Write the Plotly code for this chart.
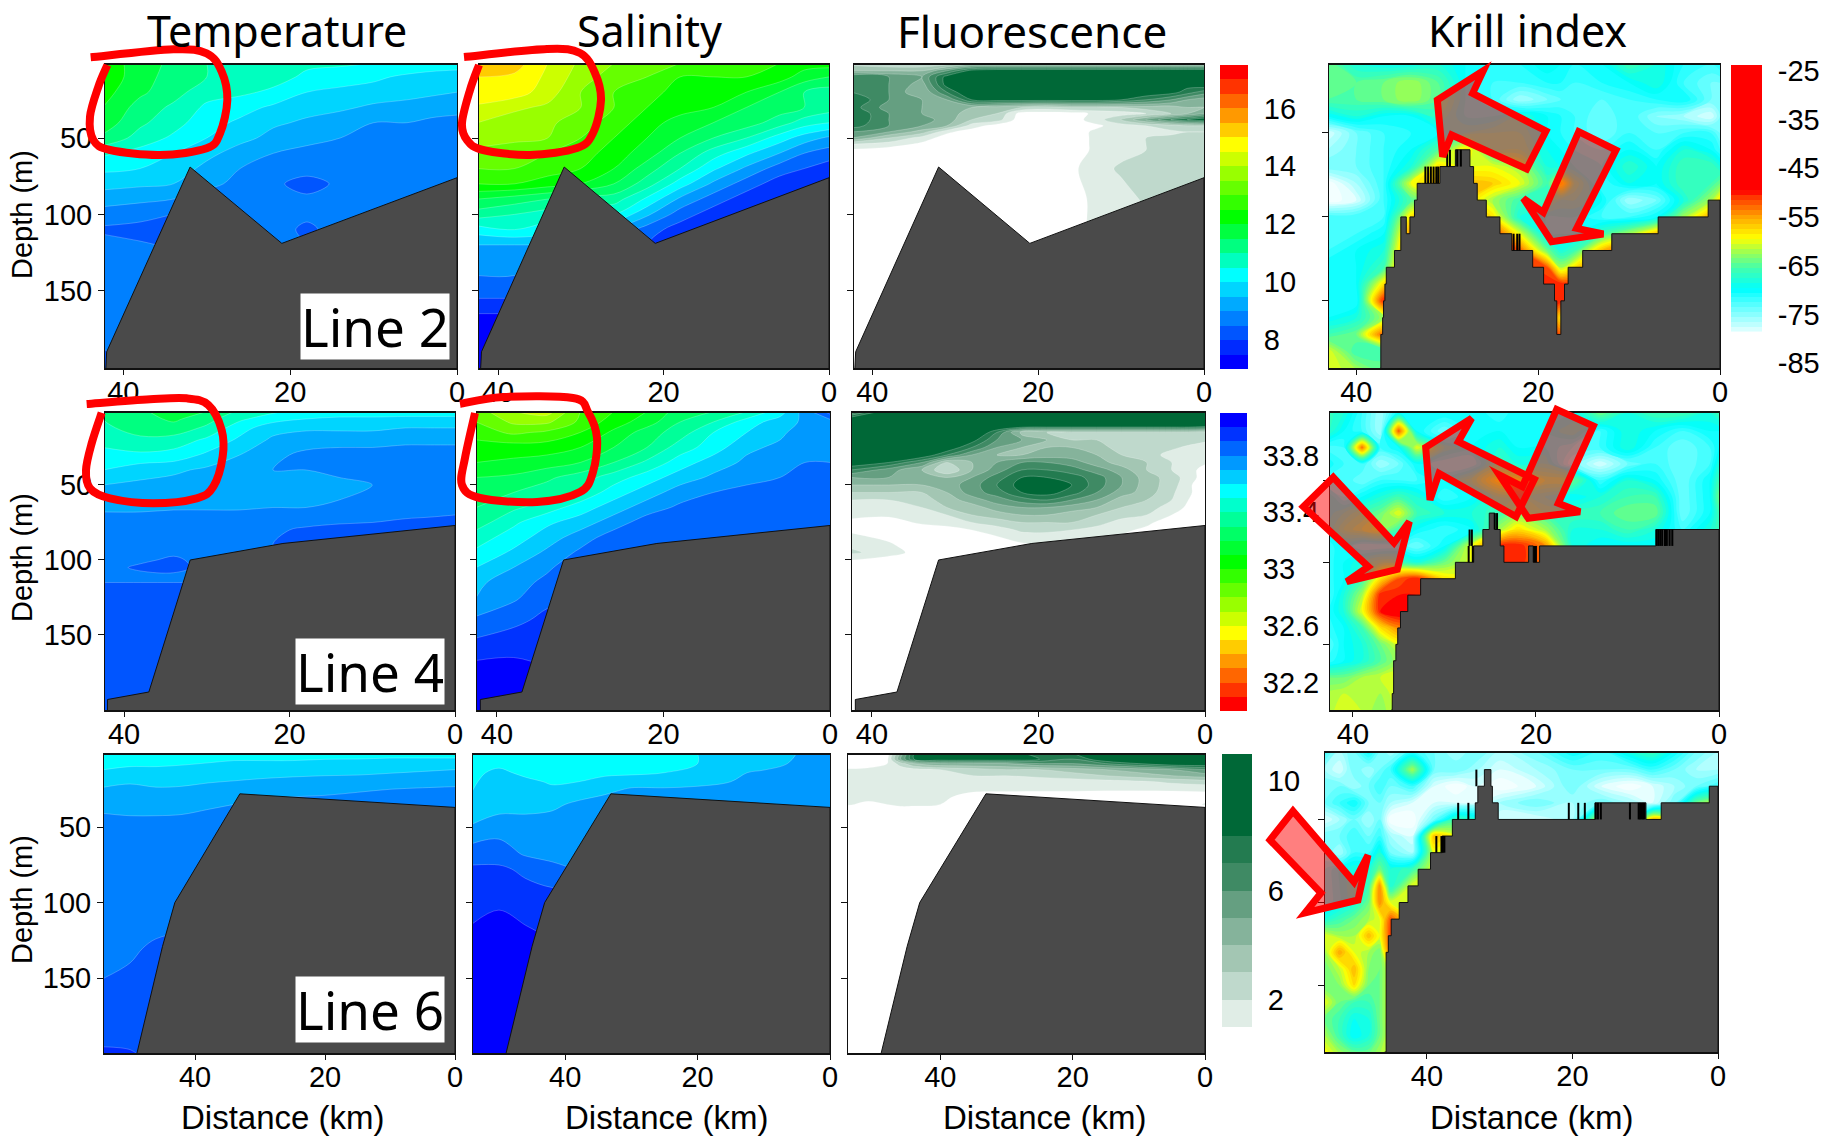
import plotly.graph_objects as go

W, H = 1833, 1138

# ---------- titles and tick labels ----------
col_titles = ["Temperature", "Salinity", "Fluorescence", "Krill index"]
line_labels = ["Line 2", "Line 4", "Line 6"]
dist_ticks = [40, 20, 0]
depth_ticks = [50, 100, 150]
temp_ticks = [8, 10, 12, 14, 16]
sal_ticks = [33.8, 33.4, 33, 32.6, 32.2]
sal_ticktext = ["33.8", "33.4", "33", "32.6", "32.2"]
fluor_ticks = [10, 6, 2]
krill_ticks = [-25, -35, -45, -55, -65, -75, -85]

# ---------- bathymetry (km, depth m) ----------
bottom_l2_km = [42.1, 42.0, 32.0, 21.0, 0.0]
bottom_l2_m = [201, 190, 69, 119, 76]
bottom_l4_km = [42.0, 42.0, 37.0, 32.0, 20.8, 0.0]
bottom_l4_m = [201, 193, 188, 100, 89, 77]
bottom_l6_km = [49.0, 45.0, 43.1, 33.1, 0.0]
bottom_l6_m = [201, 129, 100, 28, 37]

# stepped krill bottom
krill_bot_l2_km = [37.35, 37.3, 37.1, 37.0, 36.85, 36.7, 35.8, 35.1, 34.5, 34.1, 33.6, 33.3, 32.8, 30.8, 29.1, 27.5, 27.1, 26.7, 25.7, 24.2, 22.9, 20.6, 19.4, 18.2, 17.95, 17.5, 17.1, 16.7, 15.1, 11.9, 6.8, 1.3, 0.0]
krill_bot_l2_m = [190, 170, 160, 150, 140, 130, 120, 100, 110, 100, 90, 80, 80, 70, 60, 70, 80, 90, 100, 110, 120, 130, 140, 150, 170, 150, 140, 130, 120, 110, 100, 90, 90]
krill_spk_l2_km = [32.4, 32.1, 31.8, 31.5, 31.2, 31.0, 30.0, 29.7, 28.9, 28.5, 22.7, 22.3, 22.05]
krill_spk_l2_top = [70, 70, 70, 70, 70, 70, 60, 60, 60, 60, 110, 110, 110]

krill_bot_l4_km = [35.8, 35.7, 35.55, 35.3, 35.1, 34.8, 34.0, 32.6, 28.8, 26.8, 25.8, 25.1, 24.5, 23.9, 23.5, 20.8, 20.3, 19.6, 6.9, 0.0]
krill_bot_l4_m = [190, 180, 160, 150, 140, 130, 120, 110, 100, 90, 80, 70, 80, 90, 100, 90, 100, 90, 80, 80]
krill_spk_l4_km = [27.35, 27.25, 27.0, 26.9, 24.5, 24.25, 20.2, 20.0, 6.8, 6.6, 6.4, 6.2, 5.9, 5.7, 5.4, 5.1]
krill_spk_l4_top = [90, 80, 80, 90, 70, 70, 90, 90, 80, 80, 80, 80, 80, 80, 80, 80]

krill_bot_l6_km = [45.8, 45.6, 45.3, 44.9, 43.8, 42.6, 41.2, 39.5, 37.9, 36.5, 33.35, 33.0, 32.1, 31.2, 31.0, 30.2, 16.9, 9.9, 7.8, 1.2, 0.0]
krill_bot_l6_m = [190, 130, 120, 110, 100, 90, 80, 70, 60, 50, 40, 30, 20, 30, 40, 50, 40, 50, 40, 30, 30]
krill_spk_l6_km = [35.7, 34.3, 33.2, 38.7, 38.0, 37.8, 37.6, 20.5, 19.2, 18.3, 16.8, 16.5, 16.1, 12.1, 10.9, 10.7, 10.5, 10.3, 10.1]
krill_spk_l6_top = [40, 40, 20, 60, 60, 60, 60, 40, 40, 40, 40, 40, 40, 40, 40, 40, 40, 40, 40]

# ---------- Temperature ----------
temp_l2_km = [42.5, 38, 34, 30, 26, 22, 18, 14, 10, 6, 3, 0]
temp_l2_m = [1, 10, 20, 30, 40, 50, 60, 70, 80, 90, 100, 110, 125, 150, 185, 201]
temp_l2 = [
    [12.4, 11.7, 11.4, 11.0, 10.9, 10.8, 10.6, 10.6, 10.5, 10.4, 10.3, 10.3],
    [12.4, 11.7, 11.3, 11.0, 10.8, 10.7, 10.4, 10.2, 10.1, 9.9, 9.8, 9.7],
    [12.2, 11.6, 11.2, 10.7, 10.6, 10.4, 10.0, 9.9, 9.8, 9.7, 9.6, 9.5],
    [12.0, 11.3, 10.9, 10.4, 10.2, 9.9, 9.7, 9.6, 9.4, 9.3, 9.2, 9.1],
    [11.8, 11.1, 10.7, 10.2, 9.9, 9.6, 9.4, 9.2, 9.0, 9.0, 8.9, 8.9],
    [11.4, 10.8, 10.4, 10.0, 9.7, 9.3, 9.1, 9.0, 9.0, 8.8, 8.8, 8.8],
    [10.6, 10.3, 10.0, 9.7, 9.2, 9.0, 8.9, 8.8, 8.8, 8.8, 8.7, 8.7],
    [10.1, 10.0, 9.9, 9.3, 9.0, 8.8, 8.7, 8.7, 8.7, 8.7, 8.7, 8.7],
    [9.7, 9.6, 9.5, 9.1, 8.9, 8.6, 8.3, 8.6, 8.7, 8.7, 8.7, 8.7],
    [9.2, 9.1, 9.0, 8.8, 8.7, 8.6, 8.6, 8.7, 8.7, 8.7, 8.7, 8.7],
    [8.8, 8.7, 8.5, 8.3, 8.6, 8.7, 8.6, 8.7, 8.7, 8.7, 8.7, 8.7],
    [8.4, 8.3, 8.1, 8.2, 8.5, 8.7, 8.4, 8.7, 8.7, 8.7, 8.7, 8.7],
    [8.9, 8.7, 8.6, 8.6, 8.6, 8.6, 8.6, 8.6, 8.6, 8.6, 8.6, 8.6],
    [8.7, 8.7, 8.7, 8.7, 8.7, 8.7, 8.7, 8.7, 8.7, 8.7, 8.7, 8.7],
    [8.6, 8.6, 8.6, 8.6, 8.6, 8.6, 8.6, 8.6, 8.6, 8.6, 8.6, 8.6],
    [8.0, 8.6, 8.6, 8.6, 8.6, 8.6, 8.6, 8.6, 8.6, 8.6, 8.6, 8.6],
]
temp_l4_km = [42.5, 38, 34, 30, 26, 22, 18, 14, 10, 6, 3, 0]
temp_l4_m = [1, 6, 12, 20, 30, 40, 50, 60, 70, 80, 90, 100, 105, 112, 118, 201]
temp_l4 = [
    [11.0, 11.4, 11.8, 11.5, 10.9, 10.6, 10.3, 10.3, 10.3, 10.2, 10.2, 10.2],
    [11.0, 11.3, 11.6, 11.2, 10.6, 10.2, 10.0, 9.9, 9.9, 9.9, 9.9, 9.9],
    [10.9, 11.2, 11.3, 10.9, 10.2, 9.7, 9.6, 9.6, 9.6, 9.5, 9.5, 9.5],
    [10.7, 10.9, 10.8, 10.4, 9.9, 9.4, 9.2, 9.2, 9.2, 9.1, 9.1, 9.1],
    [10.3, 10.4, 10.3, 9.9, 9.5, 9.1, 8.9, 8.8, 8.8, 8.8, 8.8, 8.8],
    [10.0, 9.7, 9.6, 9.4, 9.2, 9.0, 9.0, 8.9, 8.8, 8.7, 8.7, 8.7],
    [9.5, 9.4, 9.3, 9.2, 9.2, 9.1, 9.1, 9.1, 9.0, 8.8, 8.7, 8.7],
    [9.2, 9.2, 9.2, 9.2, 9.2, 9.1, 9.1, 9.0, 8.9, 8.8, 8.7, 8.7],
    [8.95, 8.95, 8.9, 8.9, 8.9, 8.9, 8.9, 8.8, 8.7, 8.6, 8.55, 8.5],
    [8.8, 8.7, 8.7, 8.7, 8.7, 8.6, 8.4, 8.3, 8.3, 8.2, 8.2, 8.1],
    [8.7, 8.65, 8.65, 8.6, 8.6, 8.5, 8.3, 8.2, 8.2, 8.2, 8.2, 8.2],
    [8.6, 8.55, 8.45, 8.6, 8.6, 8.6, 8.6, 8.6, 8.6, 8.6, 8.6, 8.6],
    [8.6, 8.45, 8.4, 8.6, 8.6, 8.6, 8.6, 8.6, 8.6, 8.6, 8.6, 8.6],
    [8.6, 8.6, 8.6, 8.6, 8.6, 8.6, 8.6, 8.6, 8.6, 8.6, 8.6, 8.6],
    [8.4, 8.4, 8.4, 8.4, 8.4, 8.4, 8.4, 8.4, 8.4, 8.4, 8.4, 8.4],
    [8.2, 8.2, 8.2, 8.2, 8.2, 8.2, 8.2, 8.2, 8.2, 8.2, 8.2, 8.2],
]
temp_l6_km = [54, 50, 46, 42, 38, 34, 30, 25, 20, 15, 10, 5, 0]
temp_l6_m = [1, 6, 12, 18, 25, 35, 45, 60, 100, 130, 150, 170, 190, 201]
temp_l6 = [
    [10.2, 10.4, 10.5, 10.4, 10.3, 10.3, 10.3, 10.25, 10.25, 10.2, 10.2, 10.2, 10.2],
    [10.1, 10.2, 10.2, 10.1, 10.05, 10.0, 10.0, 10.0, 9.95, 9.95, 9.9, 9.9, 9.9],
    [10.0, 9.9, 9.9, 9.9, 9.85, 9.8, 9.75, 9.7, 9.7, 9.65, 9.6, 9.55, 9.5],
    [9.7, 9.6, 9.7, 9.75, 9.6, 9.55, 9.5, 9.45, 9.4, 9.4, 9.35, 9.3, 9.3],
    [9.45, 9.4, 9.45, 9.4, 9.35, 9.3, 9.2, 9.15, 9.1, 9.05, 9.0, 8.95, 8.9],
    [9.15, 9.15, 9.15, 9.1, 9.05, 9.0, 8.9, 8.85, 8.85, 8.8, 8.8, 8.8, 8.8],
    [8.9, 8.95, 8.95, 8.95, 8.9, 8.8, 8.8, 8.8, 8.8, 8.8, 8.8, 8.8, 8.8],
    [8.8, 8.8, 8.8, 8.8, 8.8, 8.8, 8.8, 8.8, 8.8, 8.8, 8.8, 8.8, 8.8],
    [8.7, 8.7, 8.7, 8.7, 8.7, 8.7, 8.7, 8.7, 8.7, 8.7, 8.7, 8.7, 8.7],
    [8.65, 8.55, 8.45, 8.4, 8.4, 8.4, 8.4, 8.4, 8.4, 8.4, 8.4, 8.4, 8.4],
    [8.5, 8.45, 8.4, 8.4, 8.4, 8.4, 8.4, 8.4, 8.4, 8.4, 8.4, 8.4, 8.4],
    [8.4, 8.35, 8.3, 8.3, 8.3, 8.3, 8.3, 8.3, 8.3, 8.3, 8.3, 8.3, 8.3],
    [8.1, 8.2, 8.3, 8.3, 8.3, 8.3, 8.3, 8.3, 8.3, 8.3, 8.3, 8.3, 8.3],
    [7.9, 7.9, 8.2, 8.3, 8.3, 8.3, 8.3, 8.3, 8.3, 8.3, 8.3, 8.3, 8.3],
]

# ---------- Salinity ----------
sal_l2_km = [42.5, 38, 34, 30, 26, 22, 18, 14, 10, 6, 3, 0]
sal_l2_m = [1, 10, 20, 30, 40, 50, 60, 70, 80, 90, 100, 110, 120, 130, 150, 165, 195, 201]
sal_l2 = [
    [32.45, 32.45, 32.6, 32.72, 32.8, 32.85, 32.9, 32.95, 33.0, 33.0, 33.05, 33.05],
    [32.5, 32.52, 32.62, 32.75, 32.85, 32.9, 33.0, 33.0, 33.0, 33.05, 33.15, 33.2],
    [32.52, 32.55, 32.65, 32.8, 32.9, 32.95, 33.05, 33.05, 33.1, 33.2, 33.3, 33.35],
    [32.62, 32.68, 32.72, 32.8, 32.9, 33.0, 33.05, 33.1, 33.2, 33.25, 33.3, 33.35],
    [32.7, 32.75, 32.78, 32.85, 32.95, 33.05, 33.15, 33.2, 33.25, 33.35, 33.45, 33.5],
    [32.72, 32.78, 32.8, 32.9, 33.0, 33.1, 33.2, 33.3, 33.4, 33.55, 33.65, 33.72],
    [32.85, 32.85, 32.9, 32.95, 33.05, 33.15, 33.3, 33.45, 33.58, 33.7, 33.8, 33.85],
    [32.9, 32.9, 32.95, 33.0, 33.1, 33.25, 33.4, 33.58, 33.72, 33.85, 33.9, 33.95],
    [33.0, 33.0, 33.05, 33.1, 33.2, 33.35, 33.55, 33.72, 33.85, 33.95, 33.98, 34.0],
    [33.2, 33.25, 33.3, 33.35, 33.35, 33.52, 33.72, 33.85, 33.95, 34.0, 34.0, 34.0],
    [33.35, 33.4, 33.45, 33.5, 33.5, 33.68, 33.85, 33.95, 34.0, 34.0, 34.0, 34.0],
    [33.55, 33.5, 33.55, 33.6, 33.7, 33.85, 33.95, 34.0, 34.0, 34.0, 34.0, 34.0],
    [33.7, 33.7, 33.7, 33.7, 33.8, 33.9, 34.0, 34.0, 34.0, 34.0, 34.0, 34.0],
    [33.75, 33.75, 33.8, 33.8, 33.8, 33.9, 34.0, 34.0, 34.0, 34.0, 34.0, 34.0],
    [33.85, 33.85, 33.85, 33.85, 33.9, 33.9, 34.0, 34.0, 34.0, 34.0, 34.0, 34.0],
    [34.0, 34.0, 34.0, 34.0, 34.0, 34.0, 34.0, 34.0, 34.0, 34.0, 34.0, 34.0],
    [34.05, 34.05, 34.05, 34.05, 34.05, 34.05, 34.05, 34.05, 34.05, 34.05, 34.05, 34.05],
    [34.05, 34.05, 34.05, 34.05, 34.05, 34.05, 34.05, 34.05, 34.05, 34.05, 34.05, 34.05],
]
sal_l4_km = [42.5, 38, 34, 30, 26, 22, 18, 14, 10, 6, 3, 0]
sal_l4_m = [1, 8, 15, 25, 35, 45, 55, 65, 75, 85, 95, 105, 115, 125, 140, 155, 170, 201]
sal_l4 = [
    [32.85, 32.7, 32.65, 32.9, 33.0, 33.1, 33.25, 33.3, 33.4, 33.55, 33.75, 33.95],
    [32.9, 32.78, 32.78, 32.92, 33.05, 33.15, 33.3, 33.4, 33.55, 33.65, 33.72, 33.75],
    [32.95, 32.88, 32.92, 33.0, 33.12, 33.25, 33.35, 33.5, 33.6, 33.68, 33.75, 33.78],
    [33.05, 33.05, 33.05, 33.1, 33.2, 33.3, 33.45, 33.55, 33.68, 33.72, 33.78, 33.8],
    [33.1, 33.12, 33.15, 33.2, 33.3, 33.42, 33.55, 33.65, 33.72, 33.77, 33.8, 33.8],
    [33.2, 33.22, 33.28, 33.35, 33.45, 33.55, 33.65, 33.72, 33.78, 33.8, 33.82, 33.82],
    [33.25, 33.3, 33.35, 33.42, 33.55, 33.65, 33.75, 33.8, 33.82, 33.83, 33.85, 33.85],
    [33.3, 33.38, 33.45, 33.55, 33.65, 33.75, 33.82, 33.85, 33.85, 33.85, 33.85, 33.85],
    [33.35, 33.48, 33.58, 33.65, 33.75, 33.85, 33.88, 33.88, 33.88, 33.88, 33.88, 33.88],
    [33.45, 33.55, 33.65, 33.75, 33.85, 33.88, 33.88, 33.88, 33.88, 33.88, 33.88, 33.88],
    [33.52, 33.62, 33.72, 33.82, 33.88, 33.88, 33.88, 33.88, 33.88, 33.88, 33.88, 33.88],
    [33.6, 33.7, 33.78, 33.88, 33.88, 33.88, 33.88, 33.88, 33.88, 33.88, 33.88, 33.88],
    [33.68, 33.75, 33.83, 33.9, 33.9, 33.9, 33.9, 33.9, 33.9, 33.9, 33.9, 33.9],
    [33.7, 33.78, 33.88, 33.9, 33.9, 33.9, 33.9, 33.9, 33.9, 33.9, 33.9, 33.9],
    [33.82, 33.88, 33.92, 33.92, 33.92, 33.92, 33.92, 33.92, 33.92, 33.92, 33.92, 33.92],
    [33.92, 33.94, 33.96, 33.96, 33.96, 33.96, 33.96, 33.96, 33.96, 33.96, 33.96, 33.96],
    [34.02, 34.03, 34.0, 34.0, 34.0, 34.0, 34.0, 34.0, 34.0, 34.0, 34.0, 34.0],
    [34.05, 34.05, 34.05, 34.05, 34.05, 34.05, 34.05, 34.05, 34.05, 34.05, 34.05, 34.05],
]
sal_l6_km = [54, 50, 46, 42, 38, 34, 30, 25, 20, 15, 10, 5, 0]
sal_l6_m = [1, 8, 14, 20, 26, 35, 48, 58, 68, 78, 90, 105, 120, 150, 201]
sal_l6 = [
    [33.55, 33.55, 33.52, 33.52, 33.52, 33.55, 33.55, 33.58, 33.6, 33.62, 33.65, 33.7, 33.72],
    [33.56, 33.58, 33.55, 33.52, 33.53, 33.55, 33.55, 33.58, 33.6, 33.62, 33.65, 33.72, 33.75],
    [33.58, 33.62, 33.58, 33.55, 33.56, 33.58, 33.58, 33.6, 33.62, 33.68, 33.72, 33.74, 33.76],
    [33.59, 33.64, 33.62, 33.59, 33.6, 33.63, 33.66, 33.66, 33.68, 33.7, 33.72, 33.75, 33.76],
    [33.6, 33.65, 33.64, 33.62, 33.65, 33.68, 33.72, 33.72, 33.72, 33.74, 33.75, 33.76, 33.78],
    [33.66, 33.68, 33.68, 33.68, 33.72, 33.75, 33.76, 33.78, 33.78, 33.78, 33.78, 33.78, 33.78],
    [33.7, 33.72, 33.72, 33.74, 33.78, 33.78, 33.78, 33.78, 33.78, 33.78, 33.78, 33.78, 33.78],
    [33.78, 33.8, 33.76, 33.76, 33.78, 33.78, 33.78, 33.78, 33.78, 33.78, 33.78, 33.78, 33.78],
    [33.85, 33.85, 33.79, 33.78, 33.8, 33.8, 33.8, 33.8, 33.8, 33.8, 33.8, 33.8, 33.8],
    [33.92, 33.92, 33.88, 33.82, 33.8, 33.8, 33.8, 33.8, 33.8, 33.8, 33.8, 33.8, 33.8],
    [33.95, 33.96, 33.92, 33.9, 33.9, 33.9, 33.9, 33.9, 33.9, 33.9, 33.9, 33.9, 33.9],
    [33.97, 34.0, 33.96, 33.94, 33.94, 33.94, 33.94, 33.94, 33.94, 33.94, 33.94, 33.94, 33.94],
    [34.02, 34.05, 34.02, 33.98, 33.98, 33.98, 33.98, 33.98, 33.98, 33.98, 33.98, 33.98, 33.98],
    [34.05, 34.05, 34.05, 34.05, 34.05, 34.05, 34.05, 34.05, 34.05, 34.05, 34.05, 34.05, 34.05],
    [34.05, 34.05, 34.05, 34.05, 34.05, 34.05, 34.05, 34.05, 34.05, 34.05, 34.05, 34.05, 34.05],
]

# ---------- Fluorescence ----------
fluor_km = [42.5, 38, 34, 31, 28, 25, 22, 19, 16, 13, 10, 7, 4, 2, 0]
fluor_l2_m = [1, 6, 10, 15, 20, 25, 30, 34, 38, 42, 46, 50, 54, 58, 70, 90, 110, 201]
fluor_l2 = [
    [2.5, 2, 2, 2, 3, 3, 3, 3, 3, 3, 3, 3, 3, 3, 3],
    [4, 4, 4, 6, 8.5, 9, 9, 9, 9, 9, 9, 9, 9, 9, 9],
    [7, 6, 5, 8.5, 10, 10, 10, 10, 10, 10, 10, 10, 9.5, 9, 9],
    [7, 6, 4.5, 8.5, 10, 10, 10, 10, 10, 10, 10, 10, 9, 8.5, 9],
    [7, 6, 4, 7, 9.5, 10, 10, 10, 10, 10, 10, 9, 8.5, 7.5, 6.5],
    [8, 6, 5, 5, 8, 8.5, 8.5, 8.5, 8.5, 8.5, 8, 7, 6, 5, 4.5],
    [7.5, 5.5, 5, 4.5, 4, 3.5, 3, 2.5, 3, 3, 3, 3.5, 3.5, 4, 4],
    [8, 6, 5, 4.5, 3.5, 3, 0.5, 0.5, 0.6, 1.2, 1.5, 2, 3, 4, 5],
    [8, 6, 5.5, 4.5, 3, 2.5, 0.3, 0.3, 0.5, 1.5, 3, 5, 7, 8, 9],
    [7.5, 6, 5, 4, 1.5, 0.5, 0.2, 0.2, 0.4, 0.8, 1.5, 2, 2.5, 3, 3],
    [6, 5, 3.5, 1.2, 0.5, 0.3, 0.2, 0.2, 0.5, 1.2, 1.2, 1.5, 1.8, 2, 2],
    [5, 3, 1.5, 0.5, 0.2, 0.2, 0.2, 0.2, 0.5, 1.2, 1.5, 2, 2.2, 2.2, 2.2],
    [2, 1.5, 0.8, 0.3, 0.1, 0.1, 0.1, 0.1, 0.5, 1.2, 1.5, 2, 2.2, 2.2, 2.5],
    [0.8, 0.5, 0.2, 0.1, 0.1, 0.1, 0.1, 0.1, 0.5, 1.2, 1.6, 2, 2.2, 2.4, 2.6],
    [0, 0, 0, 0, 0, 0, 0, 0, 0.8, 1.5, 2.2, 3, 3, 3, 3],
    [0, 0, 0, 0, 0, 0, 0, 0, 0.5, 1.3, 1.5, 2.2, 2.2, 2.2, 2.2],
    [0, 0, 0, 0, 0, 0, 0, 0, 0.5, 1.3, 1.5, 1.5, 1.5, 1.5, 1.5],
    [0, 0, 0, 0, 0, 0, 0, 0, 0, 1, 1, 1, 1, 1, 1],
]
fluor_l4_m = [1, 6, 10, 15, 20, 25, 30, 35, 40, 45, 50, 55, 60, 65, 70, 75, 80, 90, 95, 100, 110, 201]
fluor_l4 = [
    [5, 9, 9, 9, 9, 9, 9, 9, 9, 9, 9, 9, 9, 9, 9],
    [9, 10, 10, 10, 10, 10, 10, 10, 10, 10, 10, 10, 10, 10, 10],
    [10, 10, 10, 10, 10, 10, 10, 10, 10, 10, 10, 10, 10, 10, 9.5],
    [10, 10, 10, 10, 10, 7, 3.5, 3, 3, 3, 3, 3, 3, 3, 2.5],
    [10, 10, 10, 10, 8.5, 6, 5, 4, 3, 3, 2.5, 2.5, 2.5, 2.5, 2.2],
    [10, 10, 10, 9, 7, 5, 4, 4, 4, 3.5, 2.5, 2.5, 2.2, 1.8, 1.5],
    [10, 10, 9, 7, 5, 4, 4, 4.5, 4.5, 4, 3, 2.5, 1.6, 1.5, 1.2],
    [9, 8, 6, 3, 4, 5, 6, 6, 5.5, 4.5, 3.5, 3, 2, 1.5, 1.2],
    [7, 5.5, 4, 2, 4, 5.5, 7, 7, 6.5, 5.5, 4.5, 3, 2, 1.5, 0.5],
    [5, 5, 4.5, 4, 5, 6.5, 8, 8, 7.5, 6.5, 5, 3.5, 2.5, 1.5, 0.5],
    [4, 4, 4, 4.5, 5.5, 7, 8.5, 8.5, 8, 6.5, 5, 3.5, 2.5, 1.2, 0.3],
    [3, 3, 3, 4, 5.5, 6.5, 8, 8.5, 7.5, 6, 4.5, 3.5, 2.2, 1.2, 0.3],
    [2, 2, 2.5, 3.5, 4.5, 5.5, 6.5, 7, 6, 5, 3.5, 3, 2, 1, 0.3],
    [1.5, 1.5, 2, 3, 3.5, 4.5, 5, 5, 4.5, 4, 3, 2.5, 1.5, 0.8, 0.2],
    [1.2, 1.2, 1.5, 2, 3, 3.5, 4, 4, 3.5, 3, 2.5, 2, 1, 0.5, 0.2],
    [0.8, 0.5, 1.2, 1.5, 2, 2.5, 3, 3, 3, 2.5, 1.5, 1.2, 0.5, 0.2, 0.1],
    [0.8, 0.3, 0.3, 0.5, 1, 1.5, 2.2, 2.2, 2, 1.5, 1.2, 0.8, 0.2, 0.1, 0.1],
    [1.8, 1.2, 0.2, 0.2, 0.2, 0.3, 0.8, 1, 0.8, 0.8, 0.5, 0.2, 0.1, 0.1, 0.1],
    [2.2, 1.5, 0.5, 0.1, 0.1, 0.1, 0.1, 0.1, 0.1, 0.1, 0.1, 0.1, 0.1, 0.1, 0.1],
    [1, 0.5, 0, 0, 0, 0, 0, 0, 0, 0, 0, 0, 0, 0, 0],
    [0, 0, 0, 0, 0, 0, 0, 0, 0, 0, 0, 0, 0, 0, 0],
    [0, 0, 0, 0, 0, 0, 0, 0, 0, 0, 0, 0, 0, 0, 0],
]
fluor_l6_km = [54, 51, 48, 46, 44, 40, 35, 30, 25, 20, 15, 10, 5, 0]
fluor_l6_m = [1, 5, 8, 12, 16, 20, 25, 30, 35, 40, 50, 201]
fluor_l6 = [
    [0, 0, 0.5, 4, 8, 9, 9, 9, 7, 8, 10, 10, 10, 10],
    [0, 0, 0.8, 5, 8, 9, 9, 9, 8, 7, 9, 10, 10, 9],
    [0, 0.5, 1, 2.5, 4, 5, 5, 5, 6, 6, 7, 8, 9, 9],
    [1.2, 1.2, 1.2, 1.4, 1.6, 2, 2.5, 3, 3, 3.5, 4, 4.5, 5, 6],
    [1.2, 1.2, 1.2, 1.2, 1.3, 1.5, 2, 2, 2.2, 2.5, 3, 3.5, 4, 4.5],
    [1.3, 1.3, 1.3, 1.3, 1.3, 1.3, 1.4, 1.4, 1.5, 1.5, 1.6, 1.8, 2.2, 2.5],
    [1.3, 1.3, 1.3, 1.3, 1.3, 1.3, 1.3, 1.3, 1.3, 1.3, 1.2, 1.2, 1.2, 1.2],
    [1.3, 1.3, 1.3, 1.3, 1.3, 1.3, 0.5, 0.3, 0.2, 0.1, 0.1, 0.2, 0.3, 0.6],
    [1.1, 0.8, 1, 1.2, 1.2, 1, 0.3, 0.1, 0.1, 0.1, 0.1, 0.1, 0.1, 1.1],
    [0.3, 0.2, 0.3, 0.4, 0.3, 0.2, 0.1, 0, 0, 0, 0, 0, 0, 0],
    [0, 0, 0, 0, 0, 0, 0, 0, 0, 0, 0, 0, 0, 0],
    [0, 0, 0, 0, 0, 0, 0, 0, 0, 0, 0, 0, 0, 0],
]

# ---------- Krill index ----------
krill_m = [9, 20, 30, 40, 50, 60, 70, 80, 90, 100, 110, 120, 130, 140, 150, 160, 170, 180, 191]
krill_l2_km = [43.2, 40, 37, 34, 31, 28, 25, 22, 19, 17.5, 16, 13, 10, 7, 4, 1, 0]
krill_l2 = [
    [-64, -68, -69, -69, -68, -70, -71, -71, -69, -70, -71, -70, -66, -68, -71, -72, -71],
    [-64, -65, -64, -62, -65, -70, -72, -72, -71, -71, -72, -71, -70, -68, -72, -74, -74],
    [-65, -65, -64, -62, -65, -70, -72, -76, -74, -73, -72, -73, -72, -71, -70, -74, -74],
    [-70, -68, -70, -70, -67, -70, -70, -68, -70, -71, -72, -74, -72, -75, -76, -78, -75],
    [-78, -74, -72, -71, -70, -68, -67, -67, -70, -71, -72, -74, -72, -73, -72, -72, -74],
    [-76, -74, -72, -70, -65, -58, -66, -66, -69, -70, -71, -72, -70, -72, -68, -70, -72],
    [-74, -74, -72, -68, -58, -60, -60, -62, -68, -69, -70, -71, -67, -70, -66, -66, -68],
    [-80, -76, -72, -60, -56, -56, -57, -60, -66, -58, -66, -72, -69, -70, -66, -66, -64],
    [-80, -78, -72, -65, -60, -56, -62, -66, -66, -68, -68, -70, -76, -74, -68, -62, -58],
    [-72, -72, -72, -58, -54, -54, -58, -68, -70, -70, -70, -72, -72, -70, -62, -55, -55],
    [-72, -72, -70, -54, -50, -50, -50, -60, -70, -70, -70, -66, -62, -56, -55, -55, -55],
    [-72, -70, -68, -52, -50, -50, -50, -52, -64, -68, -66, -56, -50, -50, -50, -50, -50],
    [-70, -70, -66, -50, -50, -50, -50, -50, -52, -62, -58, -50, -50, -50, -50, -50, -50],
    [-70, -70, -58, -50, -50, -50, -50, -50, -50, -50, -50, -50, -50, -50, -50, -50, -50],
    [-70, -71, -50, -50, -50, -50, -50, -50, -50, -50, -50, -50, -50, -50, -50, -50, -50],
    [-70, -68, -62, -50, -50, -50, -50, -50, -50, -58, -50, -50, -50, -50, -50, -50, -50],
    [-66, -64, -52, -50, -50, -50, -50, -50, -50, -52, -50, -50, -50, -50, -50, -50, -50],
    [-60, -66, -66, -50, -50, -50, -50, -50, -50, -50, -50, -50, -50, -50, -50, -50, -50],
    [-60, -62, -64, -50, -50, -50, -50, -50, -50, -50, -50, -50, -50, -50, -50, -50, -50],
]
krill_l4_km = [43.2, 41, 39, 37, 35, 33, 30, 27, 24, 22, 19, 16, 13, 10, 7, 4, 1, 0]
krill_l4 = [
    [-66, -68, -72, -76, -70, -70, -70, -70, -72, -70, -70, -70, -64, -68, -66, -66, -68, -66],
    [-66, -70, -72, -76, -52, -70, -74, -70, -70, -70, -70, -68, -72, -68, -70, -72, -70, -70],
    [-72, -72, -53, -72, -70, -60, -68, -70, -68, -70, -70, -72, -72, -68, -72, -74, -72, -70],
    [-70, -72, -72, -76, -74, -70, -72, -72, -66, -68, -68, -74, -78, -74, -72, -74, -72, -68],
    [-72, -72, -74, -72, -72, -72, -70, -66, -60, -60, -64, -64, -72, -68, -70, -74, -70, -66],
    [-68, -72, -70, -68, -66, -68, -72, -70, -66, -66, -68, -70, -68, -66, -66, -74, -70, -64],
    [-70, -68, -66, -64, -60, -66, -68, -68, -66, -64, -66, -66, -66, -64, -64, -74, -70, -66],
    [-70, -66, -64, -62, -66, -70, -72, -70, -62, -58, -62, -68, -68, -66, -68, -72, -68, -66],
    [-72, -70, -72, -72, -72, -74, -70, -60, -50, -50, -54, -68, -70, -70, -70, -70, -66, -66],
    [-72, -70, -68, -66, -66, -68, -64, -60, -50, -50, -54, -60, -60, -60, -60, -60, -60, -60],
    [-72, -70, -66, -58, -52, -50, -58, -60, -60, -60, -60, -60, -60, -60, -60, -60, -60, -60],
    [-74, -68, -62, -50, -50, -50, -50, -60, -60, -60, -60, -60, -60, -60, -60, -60, -60, -60],
    [-72, -68, -60, -50, -48, -48, -50, -60, -60, -60, -60, -60, -60, -60, -60, -60, -60, -60],
    [-72, -70, -66, -58, -54, -54, -60, -60, -60, -60, -60, -60, -60, -60, -60, -60, -60, -60],
    [-74, -70, -68, -64, -60, -60, -60, -60, -60, -60, -60, -60, -60, -60, -60, -60, -60, -60],
    [-72, -70, -68, -65, -62, -60, -60, -60, -60, -60, -60, -60, -60, -60, -60, -60, -60, -60],
    [-64, -64, -62, -61, -60, -60, -60, -60, -60, -60, -60, -60, -60, -60, -60, -60, -60, -60],
    [-62, -61, -61, -62, -60, -60, -60, -60, -60, -60, -60, -60, -60, -60, -60, -60, -60, -60],
    [-62, -60, -61, -63, -60, -60, -60, -60, -60, -60, -60, -60, -60, -60, -60, -60, -60, -60],
]
krill_l6_km = [54, 52, 50, 48, 46.5, 45, 42, 39, 36, 33, 30, 25, 20, 16, 12, 9, 6, 3, 0]
krill_l6 = [
    [-72, -76, -74, -70, -74, -76, -72, -74, -76, -74, -76, -74, -70, -72, -68, -66, -70, -74, -76],
    [-76, -78, -74, -76, -74, -72, -62, -74, -74, -76, -78, -76, -74, -74, -74, -72, -74, -76, -76],
    [-74, -74, -76, -74, -72, -74, -72, -78, -80, -78, -80, -78, -74, -78, -80, -78, -76, -74, -72],
    [-74, -72, -70, -74, -74, -76, -78, -78, -78, -78, -76, -74, -76, -74, -76, -78, -74, -64, -60],
    [-78, -76, -74, -76, -74, -80, -80, -74, -66, -68, -78, -78, -76, -58, -72, -56, -60, -60, -60],
    [-74, -74, -72, -74, -72, -76, -78, -56, -60, -60, -60, -60, -60, -60, -60, -60, -60, -60, -60],
    [-74, -76, -72, -72, -68, -74, -76, -60, -60, -60, -60, -60, -60, -60, -60, -60, -60, -60, -60],
    [-72, -70, -68, -68, -64, -68, -66, -60, -60, -60, -60, -60, -60, -60, -60, -60, -60, -60, -60],
    [-72, -70, -68, -66, -54, -68, -60, -60, -60, -60, -60, -60, -60, -60, -60, -60, -60, -60, -60],
    [-72, -70, -68, -64, -54, -60, -60, -60, -60, -60, -60, -60, -60, -60, -60, -60, -60, -60, -60],
    [-68, -66, -64, -62, -60, -52, -60, -60, -60, -60, -60, -60, -60, -60, -60, -60, -60, -60, -60],
    [-60, -62, -62, -56, -60, -51, -60, -60, -60, -60, -60, -60, -60, -60, -60, -60, -60, -60, -60],
    [-62, -55, -60, -62, -64, -52, -60, -60, -60, -60, -60, -60, -60, -60, -60, -60, -60, -60, -60],
    [-64, -61, -56, -63, -64, -60, -60, -60, -60, -60, -60, -60, -60, -60, -60, -60, -60, -60, -60],
    [-64, -63, -58, -64, -64, -60, -60, -60, -60, -60, -60, -60, -60, -60, -60, -60, -60, -60, -60],
    [-60, -64, -66, -66, -64, -60, -60, -60, -60, -60, -60, -60, -60, -60, -60, -60, -60, -60, -60],
    [-64, -66, -69, -68, -64, -60, -60, -60, -60, -60, -60, -60, -60, -60, -60, -60, -60, -60, -60],
    [-62, -66, -70, -68, -64, -60, -60, -60, -60, -60, -60, -60, -60, -60, -60, -60, -60, -60, -60],
    [-59, -62, -64, -64, -62, -60, -60, -60, -60, -60, -60, -60, -60, -60, -60, -60, -60, -60, -60],
]

# ---------- colours ----------
rainbow = ["#0000ff", "#002aff", "#0055ff", "#0080ff", "#00aaff", "#00d5ff", "#00ffff",
           "#00ffbf", "#00ff80", "#00ff40", "#00ff00", "#33ff00", "#66ff00", "#99ff00",
           "#ccff00", "#ffff00", "#ffcc00", "#ff9900", "#ff6600", "#ff3300", "#ff0000"]
sal_rainbow = ["#ff0000", "#ff3300", "#ff6600", "#ff9900", "#ffcc00", "#ffff00", "#ccff00",
               "#99ff00", "#66ff00", "#33ff00", "#00ff00", "#00ff33", "#00ff66", "#00ff99",
               "#00ffcc", "#00ffff", "#00ccff", "#0099ff", "#0066ff", "#0033ff", "#0000ff"]
greens = ["#ffffff", "#e0ede6", "#bfd9cc", "#a3c6b3", "#85b39b", "#659f81", "#3f8a64", "#237b50", "#006837"]
krill_stops = [(-80.5, "#ffffff"), (-78.5, "#e6ffff"), (-69.8, "#00ffff"), (-65.7, "#40ffb0"),
               (-62.3, "#99ff55"), (-59.3, "#ffff00"), (-54.8, "#ffa000"), (-50.7, "#ff3000"),
               (-49.7, "#ff0000"), (-49.5, "#ff0000")]


def linear_scale(cols):
    return [[i / (len(cols) - 1), c] for i, c in enumerate(cols)]


temp_scale = linear_scale(rainbow)
sal_scale = linear_scale(sal_rainbow)
fluor_scale = linear_scale(greens)
krill_scale = [[(v + 80.5) / 31.0, c] for v, c in krill_stops]

TICK_FONT = dict(family="Liberation Sans", size=29, color="black")
LINE = "#111111"
TERRAIN = "#4a4a4a"

fig = go.Figure()
axis_no = [0]
layout_axes = {}


def add_axes(l, t, r, b, xrange, yrange, xticks, yticks, show_x=True, show_y=False, hide=False, yright=None):
    axis_no[0] += 1
    n = axis_no[0]
    sx = "" if n == 1 else str(n)
    xa = dict(domain=[l / W, r / W], range=xrange, anchor="y" + sx, showgrid=False, zeroline=False,
              layer="above traces")
    ya = dict(domain=[1 - b / H, 1 - t / H], range=yrange, anchor="x" + sx, showgrid=False, zeroline=False,
              layer="above traces")
    if hide:
        xa.update(visible=False)
        ya.update(showgrid=False, showline=False, side="right", tickmode="array", tickvals=yright[0],
                  ticktext=yright[1], ticks="outside", ticklen=9, tickcolor="rgba(0,0,0,0)",
                  tickfont=TICK_FONT, anchor="x" + sx)
    else:
        xa.update(showline=True, mirror=True, linecolor=LINE, linewidth=1.5, tickmode="array", tickvals=xticks,
                  ticks="outside", ticklen=5, tickcolor=LINE, tickfont=TICK_FONT, showticklabels=show_x,
                  ticklabelstandoff=-8)
        ya.update(showline=True, mirror=True, linecolor=LINE, linewidth=1, tickmode="array", tickvals=yticks,
                  ticks="outside", ticklen=6, tickcolor=LINE, tickfont=TICK_FONT, showticklabels=show_y)
    layout_axes["xaxis" + sx] = xa
    layout_axes["yaxis" + sx] = ya
    return "x" + sx, "y" + sx


def add_field(ax, km, m, z, scale, start, end, size, lines=True):
    fig.add_trace(go.Contour(x=km, y=m, z=z, xaxis=ax[0], yaxis=ax[1], colorscale=scale, showscale=False,
                             autocontour=False, hoverinfo="skip",
                             contours=dict(coloring="fill", start=start, end=end, size=size, showlines=lines),
                             line=dict(width=0.5 if lines else 0, color="rgba(255,255,255,0.45)")))


def add_bottom(ax, km, m, last_depth=205, step=False):
    xs = list(km) + [0.0, km[0]]
    ys = list(m) + [last_depth, last_depth]
    if not step:
        xs = list(km) + [km[-1], km[0], km[0]]
        ys = list(m) + [last_depth, last_depth, m[0]]
    fig.add_trace(go.Scatter(x=xs, y=ys, xaxis=ax[0], yaxis=ax[1], mode="lines", fill="toself",
                             fillcolor=TERRAIN, line=dict(color="#111111", width=1, shape="hv" if step else "linear"),
                             hoverinfo="skip", showlegend=False))


def add_spikes(ax, km, top, length=10):
    xs, ys = [], []
    for k, t in zip(km, top):
        xs += [k, k, None]
        ys += [t, t + length, None]
    fig.add_trace(go.Scatter(x=xs, y=ys, xaxis=ax[0], yaxis=ax[1], mode="lines",
                             line=dict(color="black", width=2), hoverinfo="skip", showlegend=False))


# ---------- panels (left, top, right, bottom px) ----------
rows = [
    dict(t=65, b=368, yr=[200.6, 2.2], kt=65, kb=368, kyr=[190, 9.5]),
    dict(t=412.5, b=710, yr=[200, 1.7], kt=413, kb=710, kyr=[190, 9]),
    dict(t=755, b=1053, yr=[199.6, 2.3], kt=753, kb=1052, kyr=[190, 10]),
]
cols_px = [
    [(105, 457, 42.2), (105, 455, 42.3), (104, 455, 54)],
    [(479, 829, 42.3), (477, 830, 42.4), (472.5, 830, 54)],
    [(854, 1204, 42.2), (852, 1205, 42.4), (847.6, 1205, 54)],
    [(1329, 1720, 43), (1330, 1719, 42.5), (1325, 1718, 54)],
]

temp_data = [(temp_l2_km, temp_l2_m, temp_l2), (temp_l4_km, temp_l4_m, temp_l4), (temp_l6_km, temp_l6_m, temp_l6)]
sal_data = [(sal_l2_km, sal_l2_m, sal_l2), (sal_l4_km, sal_l4_m, sal_l4), (sal_l6_km, sal_l6_m, sal_l6)]
fluor_data = [(fluor_km, fluor_l2_m, fluor_l2), (fluor_km, fluor_l4_m, fluor_l4), (fluor_l6_km, fluor_l6_m, fluor_l6)]
krill_data = [(krill_l2_km, krill_m, krill_l2), (krill_l4_km, krill_m, krill_l4), (krill_l6_km, krill_m, krill_l6)]
bottoms = [(bottom_l2_km, bottom_l2_m), (bottom_l4_km, bottom_l4_m), (bottom_l6_km, bottom_l6_m)]
krill_bottoms = [(krill_bot_l2_km, krill_bot_l2_m, krill_spk_l2_km, krill_spk_l2_top),
                 (krill_bot_l4_km, krill_bot_l4_m, krill_spk_l4_km, krill_spk_l4_top),
                 (krill_bot_l6_km, krill_bot_l6_m, krill_spk_l6_km, krill_spk_l6_top)]

for r, row in enumerate(rows):
    for c, (data, scale, lev) in enumerate([(temp_data[r], temp_scale, (7.5, 17, 0.5)),
                                            (sal_data[r], sal_scale, (32.1, 34.0, 0.1)),
                                            (fluor_data[r], fluor_scale, (1, 8, 1))]):
        l, rp, left_km = cols_px[c][r]
        ax = add_axes(l, row["t"], rp, row["b"], [left_km, 0], row["yr"], dist_ticks, depth_ticks, show_y=(c == 0))
        add_field(ax, data[0], data[1], data[2], scale, *lev)
        add_bottom(ax, *bottoms[r])
    l, rp, left_km = cols_px[3][r]
    ax = add_axes(l, row["kt"], rp, row["kb"], [left_km, 0], row["kyr"], dist_ticks, depth_ticks)
    add_field(ax, krill_data[r][0], krill_data[r][1], krill_data[r][2], krill_scale, -80, -50, 1, lines=False)
    kb = krill_bottoms[r]
    add_bottom(ax, kb[0], kb[1], step=True)
    add_spikes(ax, kb[2], kb[3])

# ---------- colour bars as small heatmap axes ----------
temp_bands = [7.25 + 0.5 * i for i in range(21)]
sal_bands = [32.05 + 0.1 * i for i in range(21)]
fluor_bands = [1.5, 2.5, 3.5, 4.5, 5.5, 6.5, 7.5, 8.5, 9.5, 10.5]
fluor_band_index = [1, 2, 3, 4, 5, 6, 7, 8, 8, 8]
krill_bands = list(range(-78, -23))


def add_bar(l, t, r, b, yrange, bands, z, scale, zmin, zmax, ticks, labels):
    ax = add_axes(l, t, r, b, [0, 1], yrange, None, None, hide=True, yright=(ticks, labels))
    fig.add_trace(go.Heatmap(x=[0.5], y=bands, z=[[v] for v in z], xaxis=ax[0], yaxis=ax[1], colorscale=scale,
                             zmin=zmin, zmax=zmax, showscale=False, hoverinfo="skip"))


add_bar(1220, 65, 1248, 369, [7.0, 17.5], temp_bands, list(range(21)), temp_scale, 0, 20,
        temp_ticks, [str(v) for v in temp_ticks])
add_bar(1220, 413, 1247, 711, [32.0, 34.1], sal_bands, list(range(21)), sal_scale, 0, 20, sal_ticks, sal_ticktext)
add_bar(1222, 754, 1252, 1027, [1, 11], fluor_bands, fluor_band_index, fluor_scale, 0, 8,
        fluor_ticks, [str(v) for v in fluor_ticks])
add_bar(1731, 65, 1762, 369, [-86.2, -23.8], krill_bands, krill_bands, krill_scale, -80.5, -49.5,
        krill_ticks, [str(v) for v in krill_ticks])


# ---------- annotation overlay helpers ----------
def px(x, y):
    return x / W, 1 - y / H


def smooth_path(pts):
    n = len(pts)
    pp = [px(*p) for p in pts]
    s = "M %.5f %.5f" % pp[0]
    for i in range(n - 1):
        p0 = pp[max(i - 1, 0)]
        p1 = pp[i]
        p2 = pp[i + 1]
        p3 = pp[min(i + 2, n - 1)]
        c1 = (p1[0] + (p2[0] - p0[0]) / 6, p1[1] + (p2[1] - p0[1]) / 6)
        c2 = (p2[0] - (p3[0] - p1[0]) / 6, p2[1] - (p3[1] - p1[1]) / 6)
        s += " C %.5f %.5f %.5f %.5f %.5f %.5f" % (c1 + c2 + p2)
    return s


def zoomed(pts, ox, oy, f=3.0):
    return [(ox + x / f, oy + y / f) for x, y in pts]


loops = [
    zoomed([(272, 172), (520, 148), (620, 160), (665, 215), (682, 300), (660, 400), (620, 445), (480, 465),
            (330, 450), (280, 420), (270, 350), (295, 260), (322, 195)], 0, 0),
    [(464, 57), (547, 49), (580, 53), (595, 73), (601, 100), (593, 133), (577, 148), (530, 155), (483, 150),
     (467, 140), (462, 123), (470, 90), (479, 65)],
    zoomed([(260, 42), (450, 28), (560, 25), (625, 45), (665, 120), (668, 200), (640, 290), (590, 325), (460, 340),
            (330, 325), (270, 295), (258, 240), (275, 160), (305, 68)], 0, 390),
    [(460, 404), (503, 397), (573, 398), (588, 412), (597, 438), (593, 472), (580, 492), (537, 502), (480, 498),
     (462, 485), (465, 458), (475, 413)],
]
arrows = [
    zoomed([(382, 300), (520, 212), (488, 280), (708, 393), (650, 507), (425, 405), (398, 470)], 1310, 0),
    zoomed([(806, 395), (918, 450), (800, 685), (880, 702), (725, 725), (640, 595), (700, 637)], 1310, 0),
    zoomed([(130, 262), (312, 458), (358, 395), (322, 538), (170, 575), (235, 530), (40, 350)], 1290, 390),
    zoomed([(407, 172), (545, 85), (505, 155), (733, 268), (678, 380), (447, 250), (420, 330)], 1290, 390),
    zoomed([(800, 58), (910, 108), (805, 340), (870, 365), (715, 385), (628, 255), (697, 290)], 1290, 390),
    [(1293, 811), (1354, 882), (1368, 855), (1358, 900), (1305, 913), (1321, 893), (1270, 840)],
]
shapes = []
for pts in loops:
    shapes.append(dict(type="path", xref="paper", yref="paper", path=smooth_path(pts), layer="above",
                       line=dict(color="#ff0000", width=8), fillcolor="rgba(0,0,0,0)"))
for pts in arrows:
    d = "M " + " L ".join("%.5f %.5f" % px(*p) for p in pts) + " Z"
    shapes.append(dict(type="path", xref="paper", yref="paper", path=d, layer="above",
                       line=dict(color="#ff0000", width=7), fillcolor="rgba(255,0,0,0.5)"))

annotations = []


def text(x, y, s, size, family="Liberation Sans", angle=0, **kw):
    fx, fy = px(x, y)
    annotations.append(dict(x=fx, y=fy, xref="paper", yref="paper", text=s, showarrow=False, textangle=angle,
                            xanchor="center", yanchor="middle", font=dict(family=family, size=size, color="black"),
                            **kw))


for x, s, sz in zip([277, 649, 1032, 1527], col_titles, [43, 43, 44, 43]):
    text(x, 31, s, sz, family="Noto Sans")
for y in [215, 558, 900]:
    text(22, y, "Depth (m)", 29, angle=-90)
for x in [283, 667, 1045, 1532]:
    text(x, 1117, "Distance (km)", 33)
for s, (x, y) in zip(line_labels, [(375, 326.5), (370, 671), (370, 1009.5)]):
    text(x, y, s, 53, family="Noto Sans", bgcolor="white", width=148, height=65, borderpad=0)

fig.update_layout(width=W, height=H, margin=dict(l=0, r=0, t=0, b=0, pad=0, autoexpand=False), paper_bgcolor="white",
                  plot_bgcolor="white", showlegend=False, shapes=shapes, annotations=annotations, **layout_axes)

fig.write_html("out.html", config={"displayModeBar": False}, post_script="document.body.style.margin='0';")
